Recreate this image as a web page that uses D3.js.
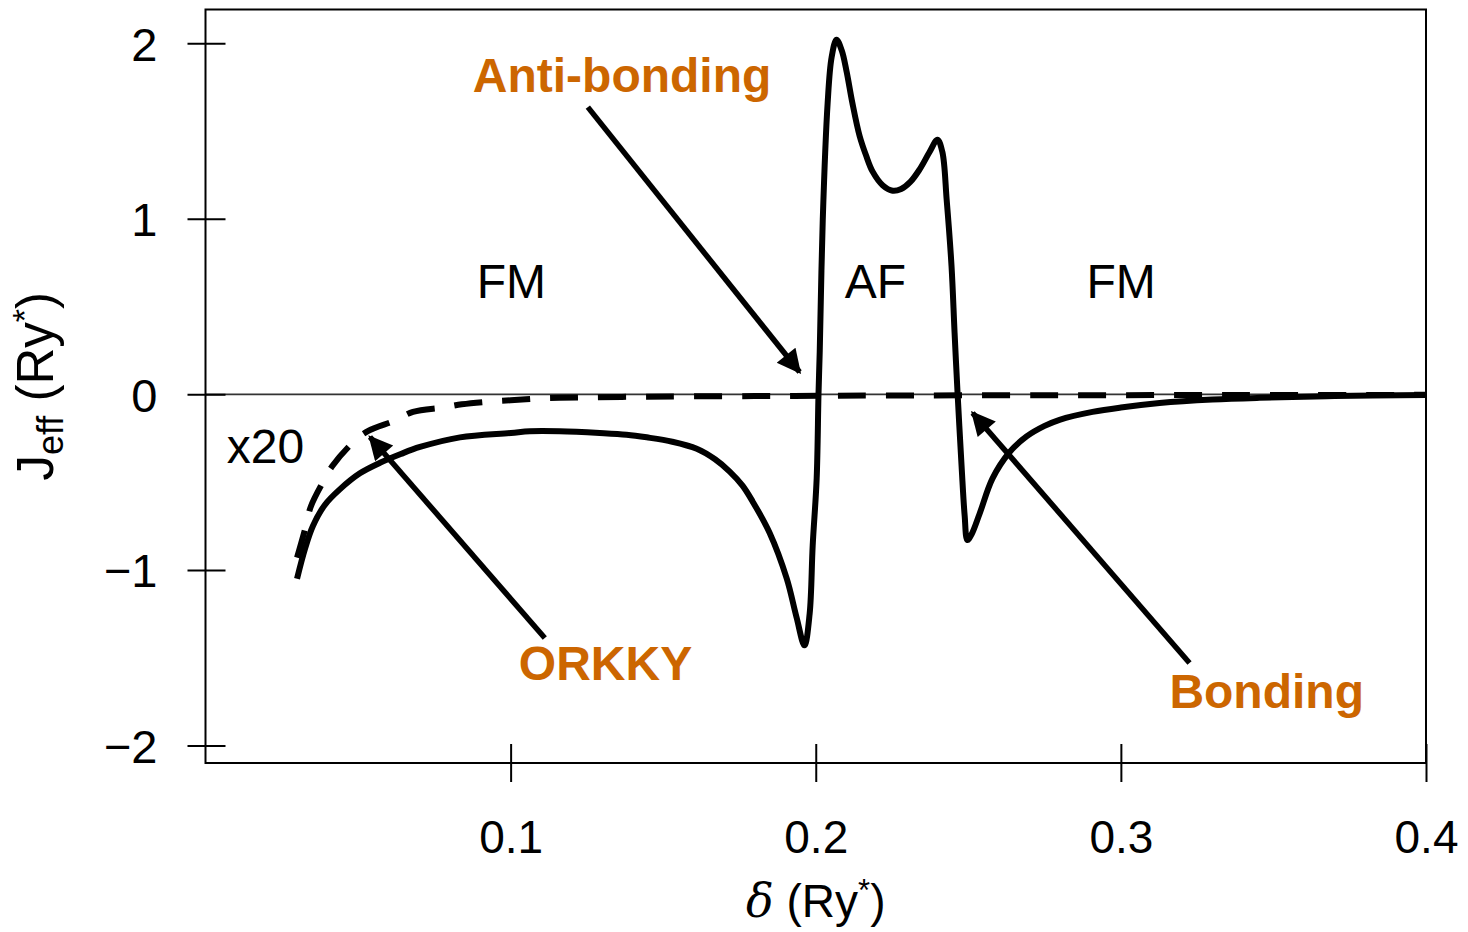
<!DOCTYPE html>
<html>
<head>
<meta charset="utf-8">
<script src="https://cdn.jsdelivr.net/npm/d3@7"></script>
<style>
  html, body { margin: 0; padding: 0; background: #fff; }
  svg { display: block; }
  text { font-family: "Liberation Sans", Arial, Helvetica, sans-serif; }
</style>
</head>
<body>
<svg id="chart" width="1468" height="932"></svg>
<script>
// ---- data ----
const solidDelta = [0.0300,0.0326,0.0352,0.0391,0.0441,0.0506,0.0572,0.0640,0.0703,0.0834,0.1001,0.1063,0.1161,0.1292,0.1380,0.1446,0.1530,0.1610,0.1670,0.1718,0.1760,0.1793,0.1849,0.1905,0.1937,0.1963,0.1980,0.1990,0.2003,0.2009,0.2013,0.2023,0.2039,0.2052,0.2068,0.2085,0.2101,0.2120,0.2144,0.2165,0.2186,0.2220,0.2252,0.2280,0.2310,0.2340,0.2373,0.2399,0.2415,0.2429,0.2445,0.2455,0.2465,0.2478,0.2488,0.2497,0.2510,0.2537,0.2579,0.2635,0.2691,0.2750,0.2799,0.2907,0.3000,0.3127,0.3300,0.3454,0.3700,0.3998];
const solidJ     = [-1.05,-0.88,-0.75,-0.63,-0.54,-0.45,-0.39,-0.34,-0.30,-0.245,-0.22,-0.21,-0.21,-0.22,-0.23,-0.245,-0.27,-0.31,-0.37,-0.44,-0.52,-0.61,-0.79,-1.05,-1.27,-1.43,-1.25,-0.86,-0.48,0.0,0.24,0.995,1.66,1.92,2.02,1.96,1.84,1.66,1.47,1.36,1.27,1.19,1.16,1.17,1.21,1.28,1.38,1.45,1.38,1.11,0.73,0.35,0.0,-0.41,-0.69,-0.83,-0.80,-0.68,-0.48,-0.33,-0.24,-0.18,-0.145,-0.10,-0.075,-0.05,-0.03,-0.02,-0.01,-0.004];

const dashedDelta = [0.0300,0.0326,0.0345,0.0385,0.0415,0.0480,0.0532,0.0620,0.0680,0.0780,0.0840,0.0940,0.1000,0.1100,0.1160,0.1400,0.1800,0.2200,0.2800,0.3400,0.4000];
const dashedJ     = [-0.93,-0.77,-0.64,-0.50,-0.41,-0.28,-0.21,-0.15,-0.10,-0.075,-0.057,-0.04,-0.034,-0.023,-0.02,-0.014,-0.01,-0.007,-0.005,-0.004,-0.003];

const xTicks = [0.1, 0.2, 0.3, 0.4];
const xTickLabels = ["0.1", "0.2", "0.3", "0.4"];
const yTicks = [-2, -1, 0, 1, 2];
const yTickLabels = ["\u22122", "\u22121", "0", "1", "2"];

// region labels (data coords: left x, baseline y)
const regionText = ["FM", "AF", "FM", "x20"];
const regionX = [0.0889, 0.2095, 0.2887, 0.0070];
const regionY = [0.548, 0.548, 0.548, -0.391];

// annotations (orange labels) and arrows (data coords)
const annoText = ["Anti-bonding", "ORKKY", "Bonding"];
const annoX = [0.0876, 0.1027, 0.3159];
const annoY = [1.721, -1.627, -1.786];
const arrowFromX = [0.1253, 0.1112, 0.3225];
const arrowFromY = [1.636, -1.388, -1.530];
const arrowToX = [0.1947, 0.0539, 0.2514];
const arrowToY = [0.127, -0.243, -0.106];

// ---- layout ----
const svg = d3.select("#chart");
const mLeft = 205.5, mRight = 1426, mTop = 9.5, mBottom = 763;
const x = d3.scaleLinear().domain([0, 0.4]).range([mLeft, mRight]);
const y = d3.scaleLinear().domain([-2.1, 2.192]).range([mBottom, mTop]);

// zero line
svg.append("line")
  .attr("x1", x(0)).attr("x2", x(0.4))
  .attr("y1", y(0)).attr("y2", y(0))
  .attr("stroke", "#333").attr("stroke-width", 1.6);

// axes
const xAxis = d3.axisBottom(x).tickValues(xTicks)
  .tickFormat((d, i) => xTickLabels[i]).tickSizeInner(0).tickSizeOuter(0);
const gx = svg.append("g").attr("transform", `translate(0,${mBottom})`).call(xAxis);
gx.select(".domain").remove();
gx.selectAll(".tick line").attr("y1", -19).attr("y2", 19)
  .attr("stroke", "#000").attr("stroke-width", 2);
gx.selectAll(".tick text").attr("y", 90).attr("dy", 0)
  .attr("fill", "#000").style("font-size", "46px")
  .style("font-family", '"Liberation Sans", Arial, sans-serif');

const yAxis = d3.axisLeft(y).tickValues(yTicks)
  .tickFormat((d, i) => yTickLabels[i]).tickSizeInner(0).tickSizeOuter(0);
const gy = svg.append("g").attr("transform", `translate(${mLeft},0)`).call(yAxis);
gy.select(".domain").remove();
gy.selectAll(".tick line").attr("x1", -18).attr("x2", 20)
  .attr("stroke", "#000").attr("stroke-width", 2);
gy.selectAll(".tick text").attr("x", -48).attr("dy", "0.36em")
  .attr("fill", "#000").style("font-size", "47px")
  .style("font-family", '"Liberation Sans", Arial, sans-serif');

// frame
svg.append("rect")
  .attr("x", mLeft).attr("y", mTop)
  .attr("width", mRight - mLeft).attr("height", mBottom - mTop)
  .attr("fill", "none").attr("stroke", "#000").attr("stroke-width", 2);

// curves
const line = d3.line().x(d => x(d[0])).y(d => y(d[1])).curve(d3.curveCatmullRom.alpha(0.5));
const dashedPts = dashedDelta.map((d, i) => [d, dashedJ[i]]);
const solidPts = solidDelta.map((d, i) => [d, solidJ[i]]);

svg.append("path").datum(dashedPts).attr("d", line)
  .attr("fill", "none").attr("stroke", "#000").attr("stroke-width", 6)
  .attr("stroke-dasharray", "28,20");

svg.append("path").datum(solidPts).attr("d", line)
  .attr("fill", "none").attr("stroke", "#000").attr("stroke-width", 6)
  .attr("stroke-linejoin", "round");

// arrows
const defs = svg.append("defs");
defs.append("marker").attr("id", "ah")
  .attr("viewBox", "0 0 10 10").attr("refX", 9).attr("refY", 5)
  .attr("markerUnits", "userSpaceOnUse")
  .attr("markerWidth", 28).attr("markerHeight", 24)
  .attr("orient", "auto")
  .append("path").attr("d", "M0,0 L10,5 L0,10 Z").attr("fill", "#000");

svg.selectAll(".arrow").data(annoText).enter().append("line")
  .attr("class", "arrow")
  .attr("x1", (d, i) => x(arrowFromX[i])).attr("y1", (d, i) => y(arrowFromY[i]))
  .attr("x2", (d, i) => x(arrowToX[i])).attr("y2", (d, i) => y(arrowToY[i]))
  .attr("stroke", "#000").attr("stroke-width", 5.5)
  .attr("marker-end", "url(#ah)");

// region text
svg.selectAll(".region").data(regionText).enter().append("text")
  .attr("class", "region")
  .attr("x", (d, i) => x(regionX[i])).attr("y", (d, i) => y(regionY[i]))
  .attr("fill", "#000")
  .style("font-size", "48px")
  .text(d => d);

// orange annotations
svg.selectAll(".anno").data(annoText).enter().append("text")
  .attr("class", "anno")
  .attr("x", (d, i) => x(annoX[i])).attr("y", (d, i) => y(annoY[i]))
  .attr("fill", "#CC6600").style("font-size", "48px").style("font-weight", "bold")
  .text(d => d);

// axis titles
const xt = svg.append("text")
  .attr("x", (mLeft + mRight) / 2).attr("y", 917)
  .attr("text-anchor", "middle").attr("fill", "#000")
  .style("font-size", "46px");
xt.append("tspan").text("\u03B4").style("font-family", '"DejaVu Serif", "Liberation Serif", serif').style("font-style", "italic");
xt.append("tspan").text(" (Ry");
xt.append("tspan").text("*").attr("dy", -16).style("font-size", "31px");
xt.append("tspan").text(")").attr("dy", 16);

const yt = svg.append("text")
  .attr("transform", `translate(53,${(mTop + mBottom) / 2}) rotate(-90)`)
  .attr("text-anchor", "middle").attr("fill", "#000")
  .style("font-size", "51px");
yt.append("tspan").text("J");
yt.append("tspan").text("eff").attr("dy", 10).style("font-size", "36px");
yt.append("tspan").text(" (Ry").attr("dy", -10);
yt.append("tspan").text("*").attr("dy", -17).style("font-size", "34px");
yt.append("tspan").text(")").attr("dy", 17);
</script>
</body>
</html>
